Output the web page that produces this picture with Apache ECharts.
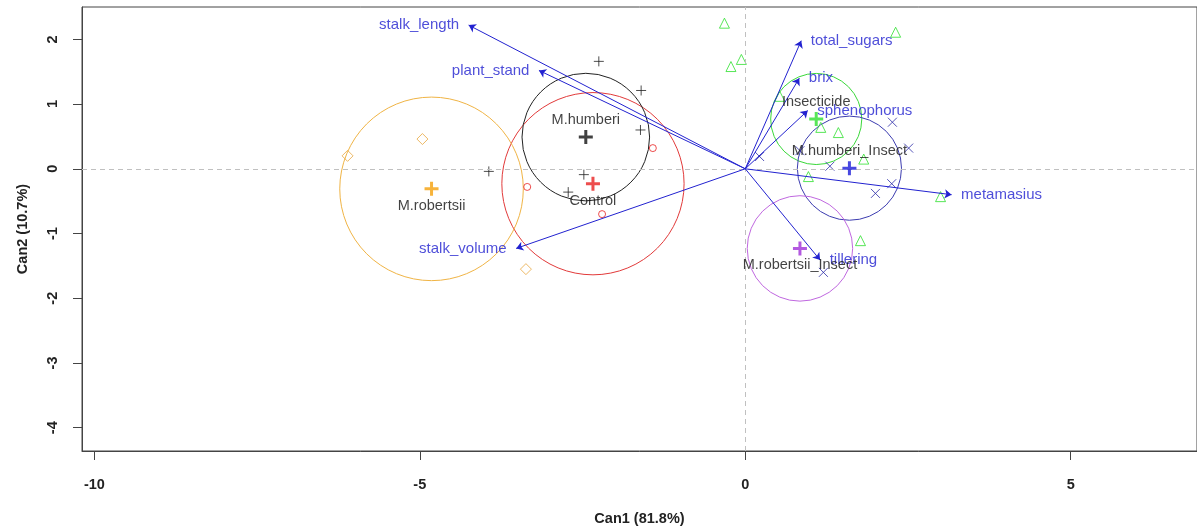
<!DOCTYPE html>
<html>
<head>
<meta charset="utf-8">
<script src="https://cdn.jsdelivr.net/npm/echarts@6/dist/echarts.min.js"></script>
<style>html,body{margin:0;padding:0;background:#fff}#c{width:1197px;height:531px}</style>
</head>
<body>
<div id="c"></div>
<script>
// ---- data ----
const xTicks = [-10, -5, 0, 5];
const yTicks = [-4, -3, -2, -1, 0, 1, 2];
const xName = 'Can1 (81.8%)';
const yName = 'Can2 (10.7%)';

// group observations (canonical scores)
const controlX = [-1.42, -3.35, -2.20];
const controlY = [0.32, -0.28, -0.70];
const insectX = [-0.32, 2.31, -0.22, -0.06, 0.53, 1.16, 1.43, 1.82, 0.97, 3.00, 1.77];
const insectY = [2.25, 2.11, 1.58, 1.69, 1.12, 0.64, 0.56, 0.15, -0.12, -0.43, -1.11];
const humberiX = [-2.25, -1.60, -1.61, -3.94, -2.48, -2.72];
const humberiY = [1.66, 1.21, 0.60, -0.04, -0.09, -0.36];
const humInsX = [2.26, 2.51, 0.22, 1.30, 0.84, 2.25, 2.00, 1.20];
const humInsY = [0.72, 0.32, 0.19, 0.04, 0.28, -0.23, -0.38, -1.60];
const robX = [-4.96, -6.11, -3.37];
const robY = [0.46, 0.20, -1.55];

// group centroids and circle radii
const groupNames = ['Control', 'Insecticide', 'M.humberi', 'M.humberi_Insect', 'M.robertsii', 'M.robertsii_Insect'];
const centX = [-2.34, 1.09, -2.45, 1.60, -4.82, 0.84];
const centY = [-0.23, 0.77, 0.49, 0.01, -0.31, -1.23];
const radius = [1.40, 0.70, 0.98, 0.80, 1.41, 0.81];
const labelAbove = [false, true, true, true, false, false];

// structure vectors
const varNames = ['stalk_length', 'plant_stand', 'stalk_volume', 'total_sugars', 'brix', 'sphenophorus', 'metamasius', 'tillering'];
const varX = [-4.25, -3.17, -3.52, 0.86, 0.83, 0.96, 3.17, 1.15];
const varY = [2.22, 1.52, -1.23, 1.98, 1.40, 0.90, -0.40, -1.41];

// ---- styles ----
const groupColors = ['#e82020', '#2ee02e', '#111111', '#1a1ad8', '#f5a00a', '#a030d8'];
const circleColors = ['#e23a3a', '#3ad83a', '#222222', '#3c3cb0', '#f0b445', '#c068e0'];
const arrowColor = '#2222d0';
const FONT = 'Liberation Sans, Arial, sans-serif';
const PLUS = 'path://M0,5L10,5M5,0L5,10';
const CROSS = 'path://M0,0L10,10M10,0L0,10';

function zipXY(xs, ys) { return xs.map((x, i) => [x, ys[i]]); }

function pts(name, xs, ys, symbol, size, color) {
  return {
    type: 'scatter', name: name, data: zipXY(xs, ys), symbol: symbol, symbolSize: size,
    itemStyle: { color: 'transparent', borderColor: color, borderWidth: 1 },
    z: 4, silent: true
  };
}

const series = [];

// dashed reference lines
series.push({
  type: 'line', data: [], silent: true,
  markLine: {
    silent: true, symbol: ['none', 'none'], label: { show: false },
    lineStyle: { type: [5, 4], color: '#c0c0c0', width: 1 },
    data: [{ xAxis: 0 }, { yAxis: 0 }]
  }
});

// circles
series.push({
  type: 'custom', silent: true, z: 3,
  data: centX.map((x, i) => [x, centY[i], radius[i]]),
  encode: { x: 0, y: 1 },
  renderItem: function (params, api) {
    const c = api.coord([api.value(0), api.value(1)]);
    const s = api.size([api.value(2), api.value(2)]);
    return {
      type: 'circle',
      shape: { cx: c[0], cy: c[1], r: s[0] },
      style: { fill: 'none', stroke: circleColors[params.dataIndex], lineWidth: 1 }
    };
  }
});

// observations
series.push(pts('Control', controlX, controlY, 'circle', 7, groupColors[0]));
series.push(pts('Insecticide', insectX, insectY, 'triangle', 10, groupColors[1]));
series.push(pts('M.humberi', humberiX, humberiY, PLUS, 10, '#222'));
series.push(pts('M.humberi_Insect', humInsX, humInsY, CROSS, 9, '#2a2aa8'));
series.push(pts('M.robertsii', robX, robY, 'diamond', 11, '#e8a840'));

// vectors
series.push({
  type: 'lines', coordinateSystem: 'cartesian2d', silent: true, z: 5,
  symbol: ['none', 'arrow'], symbolSize: 7,
  lineStyle: { color: arrowColor, width: 1, opacity: 1 },
  data: varX.map((x, i) => ({ coords: [[0, 0], [x, varY[i]]] }))
});
series.push({
  type: 'scatter', silent: true, z: 6, symbolSize: 1,
  itemStyle: { color: 'transparent' },
  data: varX.map((x, i) => ({
    value: [x, varY[i]], name: varNames[i],
    label: { position: x < 0 ? 'left' : 'right', distance: 9 }
  })),
  label: { show: true, formatter: '{b}', color: arrowColor, fontSize: 15, fontFamily: FONT }
});

// centroids with group labels
series.push({
  type: 'scatter', silent: true, z: 7, symbol: PLUS, symbolSize: 14,
  data: centX.map((x, i) => ({
    value: [x, centY[i]], name: groupNames[i],
    itemStyle: { color: 'transparent', borderColor: groupColors[i], borderWidth: 3 },
    label: { position: labelAbove[i] ? 'top' : 'bottom' }
  })),
  label: { show: true, formatter: '{b}', color: '#111', fontSize: 14.5, fontFamily: FONT, distance: 1 }
});

const chart = echarts.init(document.getElementById('c'), null, { renderer: 'canvas' });
chart.setOption({
  animation: false,
  backgroundColor: '#fff',
  grid: { left: 82, right: 0, top: 7, bottom: 77, show: true, borderColor: '#444', borderWidth: 1, containLabel: false },
  xAxis: {
    type: 'value', min: -10.19, max: 6.94,
    name: xName, nameLocation: 'middle', nameGap: 60,
    nameTextStyle: { fontWeight: 'bold', fontSize: 14.5, color: '#222', fontFamily: FONT },
    axisLine: { show: true, onZero: false, lineStyle: { color: '#444' } },
    axisTick: { show: true, length: 9, customValues: xTicks, lineStyle: { color: '#444' } },
    axisLabel: { customValues: xTicks, margin: 26, fontWeight: 'bold', fontSize: 14.5, color: '#222', fontFamily: FONT },
    splitLine: { show: false }
  },
  yAxis: {
    type: 'value', min: -4.36, max: 2.5,
    name: yName, nameLocation: 'middle', nameGap: 52, nameRotate: 90,
    nameTextStyle: { fontWeight: 'bold', fontSize: 14.5, color: '#222', fontFamily: FONT },
    axisLine: { show: true, onZero: false, lineStyle: { color: '#444' } },
    axisTick: { show: true, length: 9, customValues: yTicks, lineStyle: { color: '#444' } },
    axisLabel: { customValues: yTicks, rotate: 90, margin: 22, fontWeight: 'bold', fontSize: 14.5, color: '#222', fontFamily: FONT },
    splitLine: { show: false }
  },
  series: series
});
</script>
</body>
</html>
